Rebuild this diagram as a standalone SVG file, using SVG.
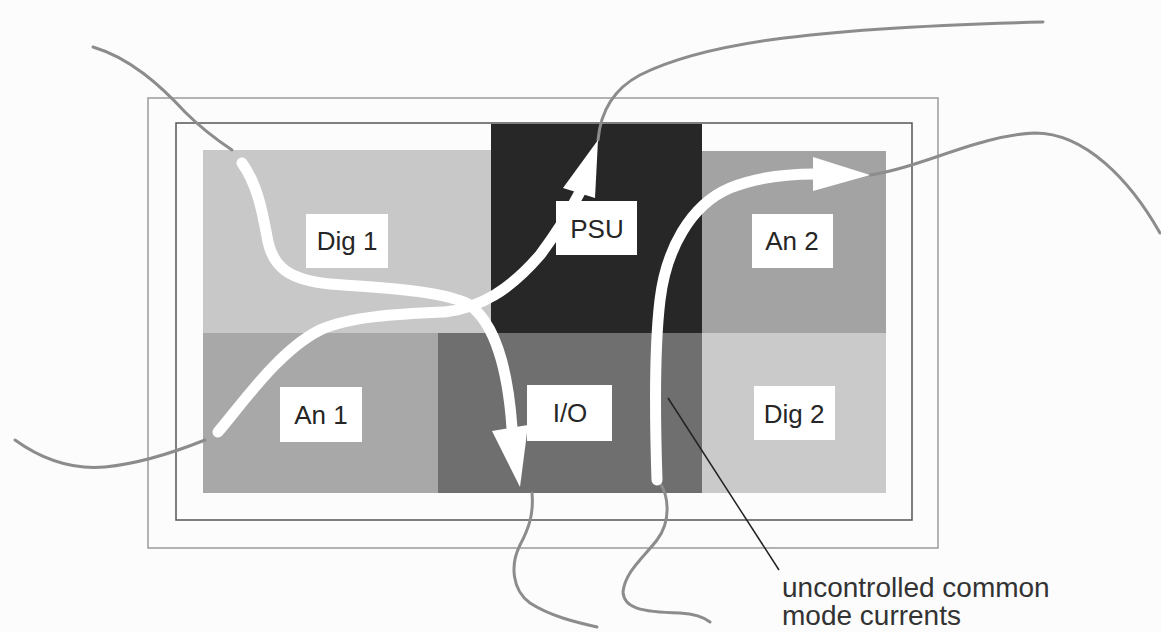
<svg xmlns="http://www.w3.org/2000/svg" width="1161" height="632" viewBox="0 0 1161 632">
<style>
.lbl{fill:#fff}
.t{font-family:"Liberation Sans",Arial,sans-serif;font-size:26px;fill:#262626;text-anchor:middle}
.note{font-family:"Liberation Sans",Arial,sans-serif;font-size:28px;fill:#333}
.cable{fill:none;stroke:#8c8c8c;stroke-width:3;stroke-linecap:round}
.flow{fill:none;stroke:#fff;stroke-width:11;stroke-linecap:round}
.head{fill:#fff}
</style>
<rect x="0" y="0" width="1161" height="632" fill="#fcfcfc"/>
<g id="frames">
<rect x="148" y="98" width="790" height="450" fill="none" stroke="#9a9a9a" stroke-width="1.5"/>
<rect x="176" y="123" width="736" height="397" fill="none" stroke="#555" stroke-width="1.5"/>
</g>
<g id="dig1"><rect x="203" y="150" width="288" height="183" fill="#c8c8c8"/><rect class="lbl" x="306" y="214" width="82" height="54"/><text class="t" x="347" y="250">Dig 1</text></g>
<g id="psu"><rect x="491" y="124" width="211" height="209" fill="#272727"/></g>
<g id="an2"><rect x="702" y="151" width="184" height="182" fill="#a3a3a3"/><rect class="lbl" x="752" y="214" width="81" height="54"/><text class="t" x="792" y="250">An 2</text></g>
<g id="an1"><rect x="203" y="333" width="235" height="160" fill="#a8a8a8"/><rect class="lbl" x="280" y="387" width="82" height="55"/><text class="t" x="321" y="424">An 1</text></g>
<g id="io"><rect x="438" y="333" width="264" height="160" fill="#6f6f6f"/></g>
<g id="dig2"><rect x="702" y="333" width="184" height="160" fill="#cacaca"/><rect class="lbl" x="754" y="386" width="81" height="54"/><text class="t" x="794" y="423">Dig 2</text></g>
<g id="connectors">
<path class="cable" d="M93,47 C130,58 160,85 185,112 C205,132 220,142 232,150"/>
<path class="cable" d="M15,440 C40,458 70,470 105,467 C145,463 180,450 205,440"/>
<path class="cable" d="M598,140 C600,118 608,92 640,75 C700,45 800,28 1043,22"/>
<path class="cable" d="M870,175 C920,168 980,135 1035,133 C1085,133 1130,180 1160,233"/>
<path class="cable" d="M532,493 C534,515 528,530 520,545 C510,565 512,590 530,603 C550,616 575,622 597,627"/>
<path class="cable" d="M660,483 C668,495 672,520 657,540 C643,558 625,572 623,592 C624,608 640,612 680,613 C695,614 705,618 710,622"/>
<path class="flow" d="M242,163 C258,185 263,215 268,242 C274,268 290,280 330,284 C380,288 440,290 468,304 C495,322 508,370 512,428"/>
<polygon class="head" points="492,431 528,425 520,487"/>
<path class="flow" d="M218,432 C245,400 280,350 320,330 C350,316 400,314 445,312 C480,308 510,290 540,255 C555,235 568,215 580,192"/>
<polygon class="head" points="563,188 595,198 598,140"/>
<path class="flow" d="M657,480 C655,420 654,350 660,300 C666,250 690,205 730,188 C760,176 790,174 815,174"/>
<polygon class="head" points="813,157 813,191 870,175"/>
</g>
<g id="psu-label"><rect class="lbl" x="556" y="201" width="81" height="54"/><text class="t" x="597" y="238">PSU</text></g>
<g id="io-label"><rect class="lbl" x="527" y="385" width="85" height="56"/><text class="t" x="570" y="422">I/O</text></g>
<g id="annotation">
<line x1="668" y1="398" x2="779" y2="570" stroke="#222" stroke-width="1.5"/>
<text class="note" x="782" y="597">uncontrolled common</text>
<text class="note" x="782" y="625">mode currents</text>
</g>
</svg>
